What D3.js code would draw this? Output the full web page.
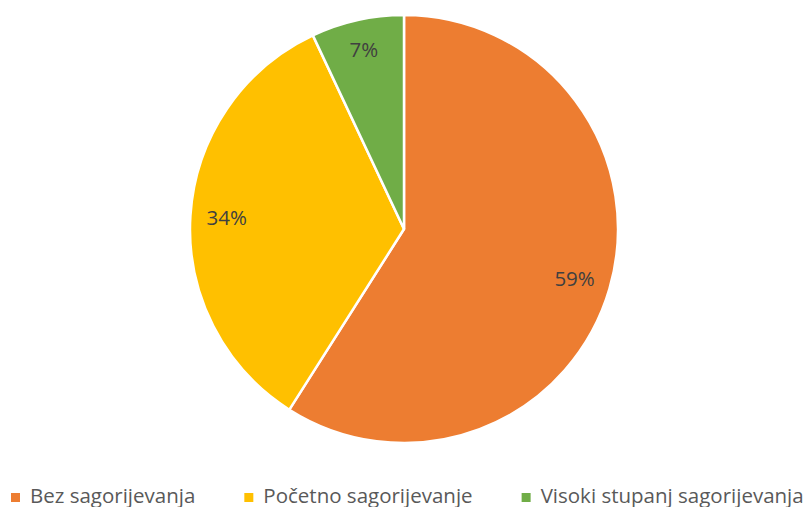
<!DOCTYPE html>
<html>
<head>
<meta charset="utf-8">
<script src="https://cdn.jsdelivr.net/npm/d3@7"></script>
<style>
  body { margin: 0; background: #fff; }
  text { font-family: "Open Sans", "Noto Sans", sans-serif; }
</style>
</head>
<body>
<svg width="808" height="507"></svg>
<script>
// The svg
var svg = d3.select("svg"),
  width = +svg.attr("width"),
  height = +svg.attr("height");

// Data
var categories = ["Bez sagorijevanja", "Početno sagorijevanje", "Visoki stupanj sagorijevanja"];
var values = [59, 34, 7];
var colors = ["#ED7D31", "#FFC000", "#70AD47"];

var cx = 404, cy = 229, radius = 214;

var pie = d3.pie().sort(null).value(function (d) { return d; });
var arcs = pie(values);

var arc = d3.arc().innerRadius(0).outerRadius(radius);
var labelArc = d3.arc().innerRadius(radius * 0.83).outerRadius(radius * 0.83);

var g = svg.append("g").attr("transform", "translate(" + cx + "," + cy + ")");

g.selectAll("path")
  .data(arcs)
  .enter()
  .append("path")
  .attr("d", arc)
  .attr("fill", function (d, i) { return colors[i]; })
  .attr("stroke", "#fff")
  .attr("stroke-width", 2.5)
  .attr("stroke-linejoin", "round");

g.selectAll("text.lbl")
  .data(arcs)
  .enter()
  .append("text")
  .attr("class", "lbl")
  .attr("transform", function (d) {
    var c = labelArc.centroid(d);
    // small slice: Excel pushes its label a bit further out
    if (d.data < 10) c = d3.arc().innerRadius(radius * 0.86).outerRadius(radius * 0.86).centroid(d);
    return "translate(" + c[0] + "," + c[1] + ")";
  })
  .attr("text-anchor", "middle")
  .attr("dy", "0.35em")
  .style("font-size", "20.5px")
  .style("fill", "#404040")
  .text(function (d) { return d.data + "%"; });

// Legend
var legend = svg.append("g").attr("class", "legend");
var x = 11;
categories.forEach(function (c, i) {
  var item = legend.append("g").attr("transform", "translate(" + x + ",0)");
  item.append("rect")
    .attr("x", 0)
    .attr("y", 493)
    .attr("width", 9)
    .attr("height", 9)
    .attr("fill", colors[i]);
  var t = item.append("text")
    .attr("x", 19)
    .attr("y", 503)
    .style("font-size", "20.5px")
    .style("fill", "#595959")
    .text(c);
  x += 19 + t.node().getComputedTextLength() + 49;
});
</script>
</body>
</html>
